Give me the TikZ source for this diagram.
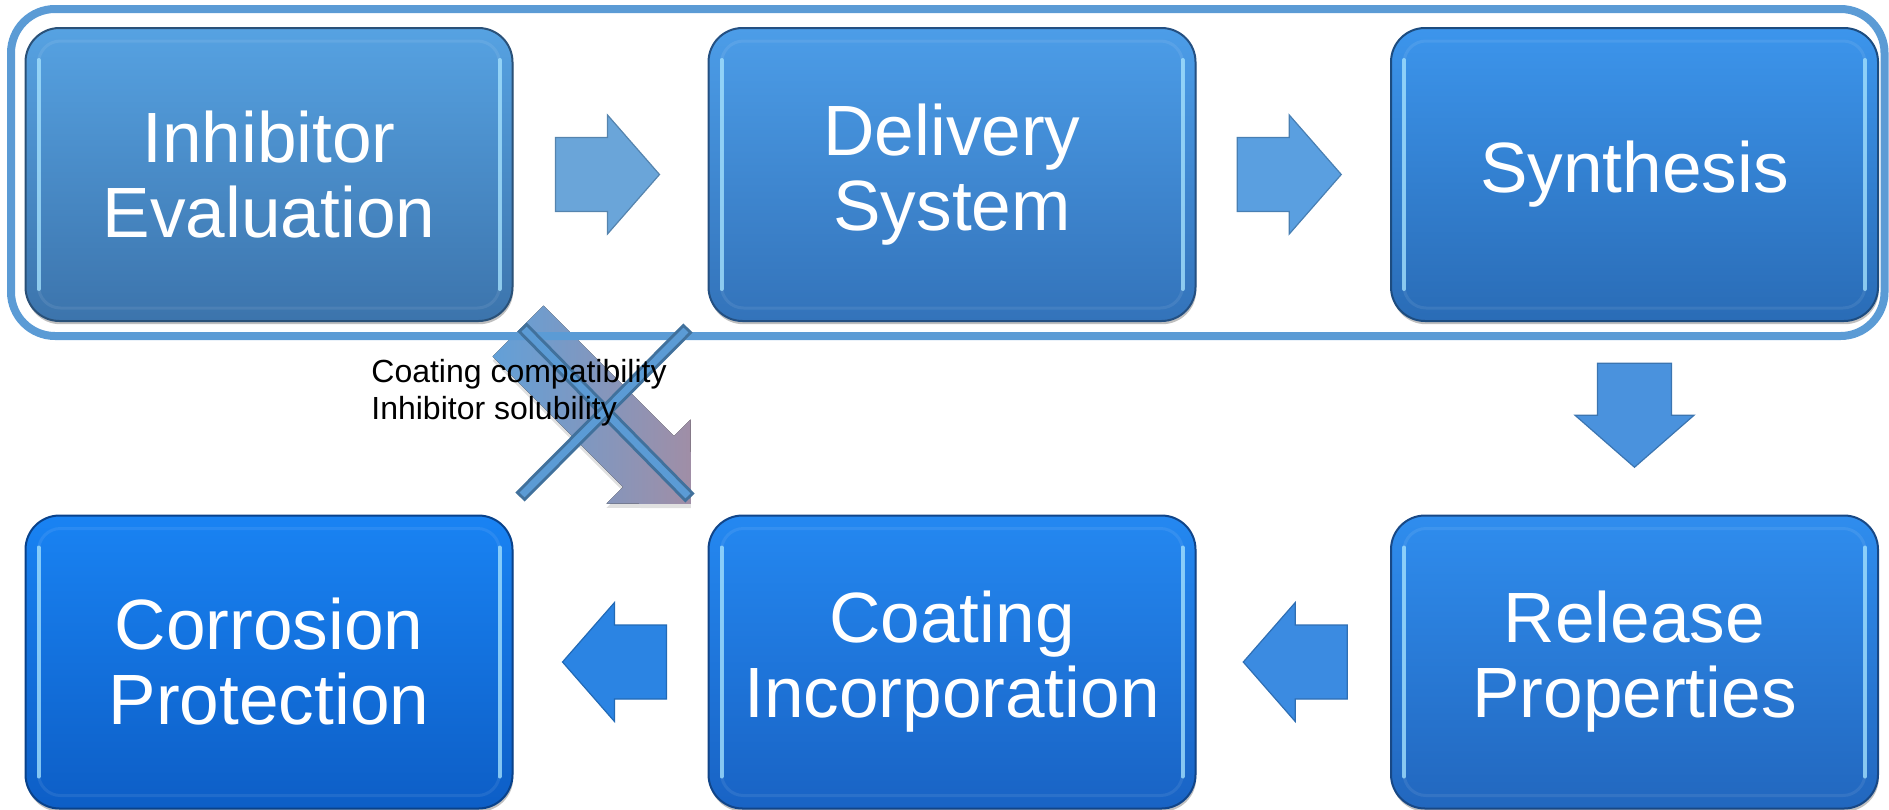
\documentclass[tikz,border=0pt]{standalone}
\usepackage{fontspec}
\setmainfont{Liberation Sans}
\usetikzlibrary{calc,shadows}
\definecolor{frame}{HTML}{5B9BD5}
\definecolor{xedge}{HTML}{41719C}
\definecolor{hl}{HTML}{A6E4FF}
\definecolor{bat}{HTML}{56A2E2}\definecolor{bab}{HTML}{3C74AC}
\definecolor{bbt}{HTML}{4C9DE8}\definecolor{bbb}{HTML}{3373BA}
\definecolor{bct}{HTML}{3C95EC}\definecolor{bcb}{HTML}{2A6CB6}
\definecolor{bdt}{HTML}{2F8DEE}\definecolor{bdb}{HTML}{2267BE}
\definecolor{bet}{HTML}{2488F1}\definecolor{beb}{HTML}{1963C4}
\definecolor{bft}{HTML}{1983F3}\definecolor{bfb}{HTML}{0D5EC6}
\definecolor{aa}{HTML}{6AA5D9}
\definecolor{ab}{HTML}{5A9FE0}
\definecolor{ac}{HTML}{4A92DD}
\definecolor{ad}{HTML}{3B8BE1}
\definecolor{ae}{HTML}{2B84E3}
\definecolor{dblue}{HTML}{62A0D8}
\definecolor{dmauve}{HTML}{A08EA6}
\begin{document}
\begin{tikzpicture}[x=0.5pt,y=-0.5pt,
  stepbox/.style 2 args={rounded corners=17pt, minimum width=243.5pt, minimum height=146.5pt,
    inner sep=0pt, top color=#1, bottom color=#2, draw=#2!70!black, line width=1pt,
    text=white, align=center, font=\fontsize{35.6}{37.5}\selectfont,
    drop shadow={shadow xshift=0.4pt, shadow yshift=-1.6pt, fill=black, opacity=0.25},
    path picture={
      \draw[line width=1.5pt, white, opacity=.08, rounded corners=11pt]
        ([xshift=6.5pt,yshift=-6.5pt]path picture bounding box.north west) rectangle
        ([xshift=-6.5pt,yshift=6.5pt]path picture bounding box.south east);
      \draw[line width=2pt, hl, opacity=.75, line cap=round]
        ([xshift=6.5pt,yshift=-16pt]path picture bounding box.north west) --
        ([xshift=6.5pt,yshift=16pt]path picture bounding box.south west);
      \draw[line width=2pt, hl, opacity=.75, line cap=round]
        ([xshift=-6.5pt,yshift=-16pt]path picture bounding box.north east) --
        ([xshift=-6.5pt,yshift=16pt]path picture bounding box.south east);
    }},
  blockarrow/.pic={\path[pic actions] (-52,-37) -- (0,-37) -- (0,-59.5) -- (52,0)
      -- (0,59.5) -- (0,37) -- (-52,37) -- cycle;},
  arrowlook/.style={fill=#1, draw=#1!80!black, line width=0.6pt},
  xout/.style={line width=6.5pt, draw=xedge},
  xin/.style={line width=3.5pt, draw=frame, shorten >=1.5pt, shorten <=1.5pt},
  smalltext/.style={font=\fontsize{16}{18.7}\selectfont, align=left, inner sep=0pt, text=black}
]
\useasboundingbox (0,0) rectangle (1889,809);

% diagonal (crossed-out) arrow
\begin{scope}[shift={(518,331)}, rotate=-45]
  \fill[black, opacity=0.12, shift={(3,3)}] (0,-36) -- (184.6,-36) -- (184.6,-59.5) -- (244.6,0)
     -- (184.6,59.5) -- (184.6,36) -- (0,36) -- cycle;
  \fill[left color=dblue, right color=dmauve] (0,-36) -- (184.6,-36) -- (184.6,-59.5) -- (244.6,0)
     -- (184.6,59.5) -- (184.6,36) -- (0,36) -- cycle;
\end{scope}

% outer frame
\draw[frame, line width=4pt, rounded corners=22pt] (11,9) rectangle (1884.5,336);

% boxes
\node[stepbox={bat}{bab}] (ie) at (269,174.5) {Inhibitor\\Evaluation};
\node[stepbox={bbt}{bbb}] (ds) at (952,174.5) {Delivery\\System};
\node[stepbox={bct}{bcb}] (sy) at (1634.5,174.5) {Synthesis};
\node[stepbox={bdt}{bdb}] (rp) at (1634.5,662) {Release\\Properties};
\node[stepbox={bet}{beb}] (ci) at (952,662) {Coating\\Incorporation};
\node[stepbox={bft}{bfb}] (cp) at (269,662) {Corrosion\\Protection};

% block arrows
\pic[arrowlook=aa] at ($(ie.east)!0.5!(ds.west)+(-3,0)$) {blockarrow};
\pic[arrowlook=ab] at ($(ds.east)!0.5!(sy.west)+(-4,0)$) {blockarrow};
\pic[arrowlook=ac, rotate=-90] at ($(sy.south)!0.5!(rp.north)+(0,-3)$) {blockarrow};
\pic[arrowlook=ad, rotate=180] at ($(rp.west)!0.5!(ci.east)+(2,0)$) {blockarrow};
\pic[arrowlook=ae, rotate=180] at ($(ci.west)!0.5!(cp.east)+(4,0)$) {blockarrow};

% cross
\coordinate (xa1) at (522,327);
\coordinate (xa2) at (690,498);
\coordinate (xb1) at (688,328);
\coordinate (xb2) at (520,497);
\draw[xout] (xa1) -- (xa2);
\draw[xin] (xa1) -- (xa2);
\draw[xout] (xb1) -- (xb2);
\draw[xin] (xb1) -- (xb2);

% label
\node[smalltext, anchor=west] (lbl) at (371,393) {Coating compatibility\\Inhibitor solubility};
\end{tikzpicture}
\end{document}
